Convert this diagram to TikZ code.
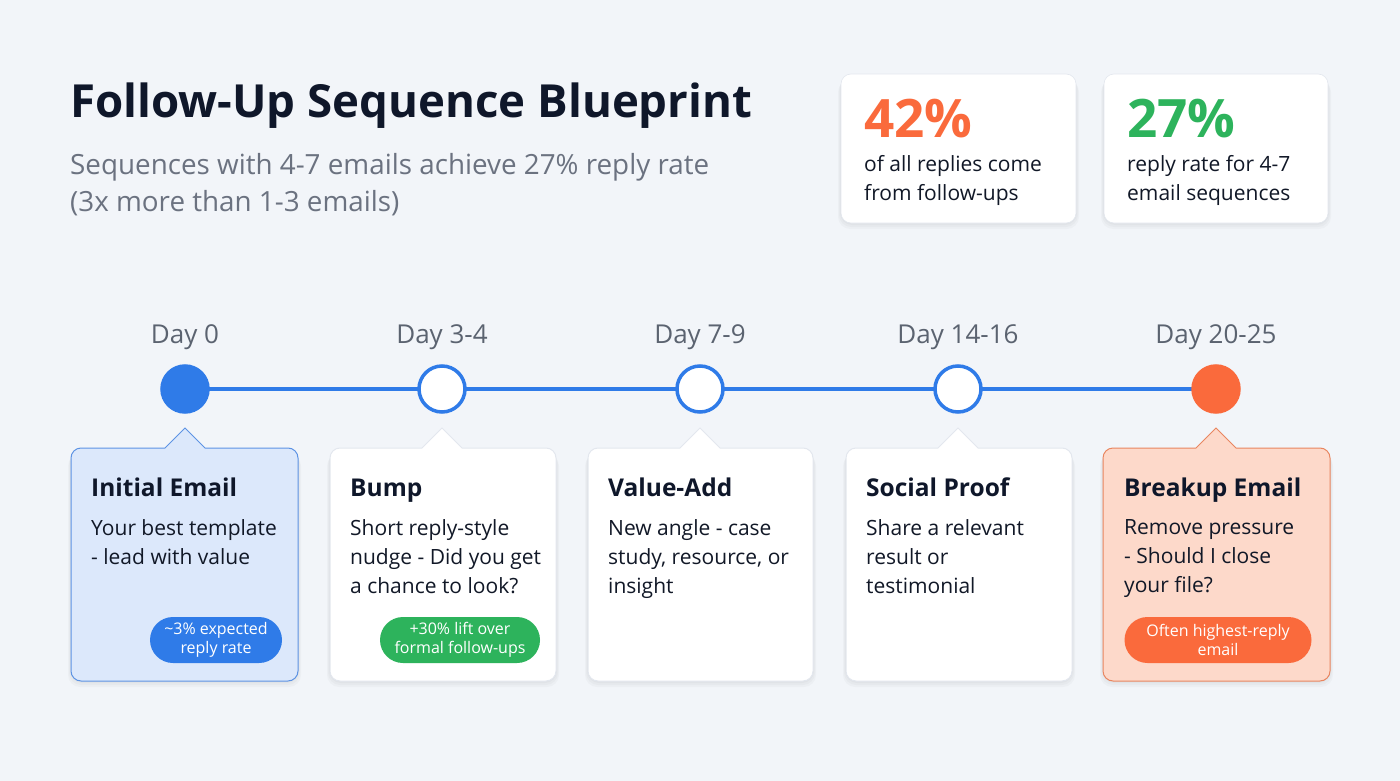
\documentclass[tikz,border=0pt]{standalone}
\usepackage{fontspec}
\setmainfont{Open Sans}
\usetikzlibrary{calc}
\definecolor{bg}{HTML}{F2F5F9}
\definecolor{ink}{HTML}{111827}
\definecolor{navy}{HTML}{0F172A}
\definecolor{subgray}{HTML}{6B7280}
\definecolor{daygray}{HTML}{5B6370}
\definecolor{tblue}{HTML}{2F7BE8}
\definecolor{torange}{HTML}{FA6A3C}
\definecolor{tgreen}{HTML}{2DB35C}
\definecolor{bluefill}{HTML}{DCE8FB}
\definecolor{blueedge}{HTML}{5D93E4}
\definecolor{orfill}{HTML}{FDD9CA}
\definecolor{oredge}{HTML}{E98660}
\definecolor{cardedge}{HTML}{E3E7EE}
\tikzset{
  dot/.style={circle,minimum size=46pt,inner sep=0pt,line width=3.5pt},
  daylbl/.style={anchor=base,text=daygray,font=\fontsize{26}{30}\selectfont},
  ctitle/.style={anchor=base west,inner sep=0pt,text=navy,font=\fontsize{24.5}{30}\selectfont\bfseries},
  cdesc/.style={anchor=north west,text=ink,align=left,inner sep=0pt,font=\fontsize{21}{29}\selectfont},
  badge/.style={rounded corners=23pt,minimum height=46pt,inner sep=0pt,text=white,align=center,font=\fontsize{16}{18.5}\selectfont},
  statnum/.style={anchor=base west,inner sep=0pt,font=\fontsize{53}{60}\selectfont\bfseries},
  stattxt/.style={anchor=north west,inner sep=0pt,align=left,text=ink,font=\fontsize{21}{29}\selectfont},
  shade1/.style={fill=black,opacity=0.025},
}
\begin{document}
\begin{tikzpicture}[x=1pt,y=-1pt]
\useasboundingbox (0,0) rectangle (1400,781);
\fill[bg] (0,0) rectangle (1400,781);
% title
\node[anchor=base west,inner sep=0pt,text=navy,font=\fontsize{45.6}{55}\selectfont\bfseries] (title) at (70,118) {Follow-Up Sequence Blueprint};
\node[anchor=north west,inner sep=0pt,text=subgray,align=left,font=\fontsize{27.8}{37}\selectfont] (sub) at (70,153) {Sequences with 4-7 emails achieve 27\% reply rate\\(3x more than 1-3 emails)};
% stat cards
\foreach \a/\b in {841/1076,1104/1328}{
  \foreach \s in {2,4,6}{\fill[shade1,rounded corners=12pt] (\a-\s/2,74+\s) rectangle (\b+\s/2,223+\s);}
  \filldraw[fill=white,draw=cardedge,line width=0.6pt,rounded corners=10pt] (\a,74) rectangle (\b,223);
}
\node[statnum,text=torange] (s1) at (864,138) {42\%};
\node[stattxt] (s1t) at (864,155) {of all replies come\\from follow-ups};
\node[statnum,text=tgreen] (s2) at (1127,138) {27\%};
\node[stattxt] (s2t) at (1127,155) {reply rate for 4-7\\email sequences};
% timeline
\coordinate (t0) at (185,389);
\coordinate (t1) at (442,389);
\coordinate (t2) at (700,389);
\coordinate (t3) at (958,389);
\coordinate (t4) at (1216,389);
\draw[tblue,line width=4pt] (t0) -- (t4);
\node[dot,fill=tblue,draw=tblue] (d0) at (t0) {};
\node[dot,fill=white,draw=tblue] (d1) at (t1) {};
\node[dot,fill=white,draw=tblue] (d2) at (t2) {};
\node[dot,fill=white,draw=tblue] (d3) at (t3) {};
\node[dot,fill=torange,draw=torange] (d4) at (t4) {};
\node[daylbl] (l0) at (185,343) {Day 0};
\node[daylbl] (l1) at (442,343) {Day 3-4};
\node[daylbl] (l2) at (700,343) {Day 7-9};
\node[daylbl] (l3) at (958,343) {Day 14-16};
\node[daylbl] (l4) at (1216,343) {Day 20-25};
% cards
\foreach \x/\l/\r/\f/\e in {185/71/298/bluefill/blueedge,442/330/556/white/cardedge,700/588/813/white/cardedge,958/846/1072/white/cardedge,1216/1103/1330/orfill/oredge}{
  \foreach \s in {2,4,6}{\fill[shade1,rounded corners=12pt] (\l-\s/2,448+\s) rectangle (\r+\s/2,681+\s);}
  \filldraw[fill=\f,draw=\e,line width=1pt] (\x,428) -- (\x+20,448) [rounded corners=10pt] -- (\r,448) -- (\r,681) -- (\l,681) -- (\l,448) [sharp corners] -- (\x-20,448) -- cycle;
}
\node[ctitle] (c0t) at (91,496) {Initial Email};
\node[cdesc] (c0d) at (91,519) {Your best template\\- lead with value};
\node[badge,fill=tblue,minimum width=132pt] (b0) at (216,640) {\textasciitilde3\% expected\\reply rate};
\node[ctitle] (c1t) at (350,496) {Bump};
\node[cdesc] (c1d) at (350,519) {Short reply-style\\nudge - Did you get\\a chance to look?};
\node[badge,fill=tgreen,minimum width=160pt] (b1) at (460,640) {+30\% lift over\\formal follow-ups};
\node[ctitle] (c2t) at (608,496) {Value-Add};
\node[cdesc] (c2d) at (608,519) {New angle - case\\study, resource, or\\insight};
\node[ctitle] (c3t) at (866,496) {Social Proof};
\node[cdesc] (c3d) at (866,519) {Share a relevant\\result or\\testimonial};
\node[ctitle] (c4t) at (1124,496) {Breakup Email};
\node[cdesc] (c4d) at (1124,519) {Remove pressure\\- Should I close\\your file?};
\node[badge,fill=torange,minimum width=187pt] (b4) at (1218,640) {Often highest-reply\\email};
\end{tikzpicture}
\end{document}
